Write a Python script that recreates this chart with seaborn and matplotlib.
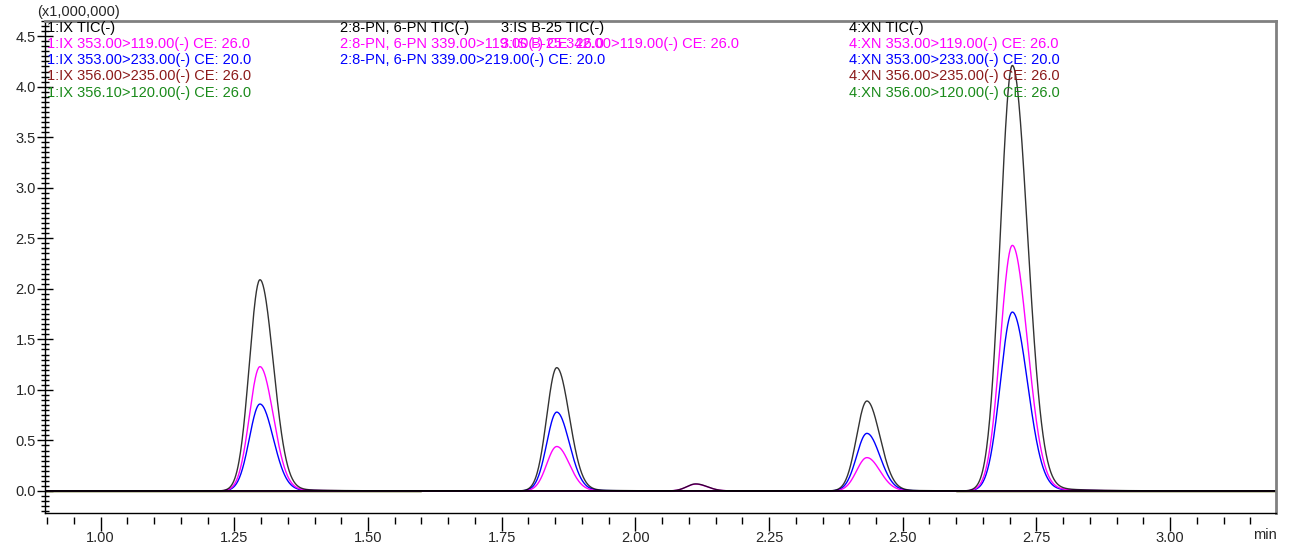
import numpy as np
import pandas as pd
import matplotlib
matplotlib.use("Agg")
import matplotlib.pyplot as plt
from matplotlib.ticker import MultipleLocator
import seaborn as sns

# Peak table per MRM trace: retention time (min), height (x1,000,000), left sigma (min)
ix_rt, ix_sigma = [1.298], [0.0198]
ix_tic = [2.09]
ix_353_119 = [1.23]
ix_353_233 = [0.86]

pn_rt, pn_sigma = [1.853, 2.433], [0.0187, 0.0193]
pn_tic = [1.22, 0.89]
pn_339_119 = [0.44, 0.33]
pn_339_219 = [0.78, 0.57]

is_rt, is_sigma = [2.113], [0.017]
is_tic = [0.07]
is_342_119 = [0.068]

xn_rt, xn_sigma = [2.705], [0.0225]
xn_tic = [4.21]
xn_353_119 = [2.43]
xn_353_233 = [1.77]

# Acquisition windows (min) of the segments that carry the 356 transitions
ix_window = [0.896, 1.60]
xn_window = [2.60, 3.198]

# Legend text of each acquisition segment
seg1_labels = ["1:IX TIC(-)", "1:IX 353.00>119.00(-) CE: 26.0", "1:IX 353.00>233.00(-) CE: 20.0",
               "1:IX 356.00>235.00(-) CE: 26.0", "1:IX 356.10>120.00(-) CE: 26.0"]
seg2_labels = ["2:8-PN, 6-PN TIC(-)", "2:8-PN, 6-PN 339.00>119.00(-) CE: 26.0",
               "2:8-PN, 6-PN 339.00>219.00(-) CE: 20.0"]
seg3_labels = ["3:IS B-25 TIC(-)", "3:IS B-25 342.00>119.00(-) CE: 26.0"]
seg4_labels = ["4:XN TIC(-)", "4:XN 353.00>119.00(-) CE: 26.0", "4:XN 353.00>233.00(-) CE: 20.0",
               "4:XN 356.00>235.00(-) CE: 26.0", "4:XN 356.00>120.00(-) CE: 26.0"]
label_colors = ["black", "#ff00ff", "#0000ff", "#8b1a1a", "#1a8a1a"]

x_ticks = [1.00, 1.25, 1.50, 1.75, 2.00, 2.25, 2.50, 2.75, 3.00]
y_ticks = [0.0, 0.5, 1.0, 1.5, 2.0, 2.5, 3.0, 3.5, 4.0, 4.5]

t = np.linspace(0.896, 3.198, 2400)


def peak_shape(rts, heights, sigmas):
    """Tailing chromatographic peaks: skewed Gaussian core plus a small exponential tail."""
    y = np.zeros_like(t)
    for rt, h, s in zip(rts, heights, sigmas):
        d = t - rt
        sr = 1.25 * s
        core = np.where(d < 0, np.exp(-0.5 * (d / s) ** 2), np.exp(-0.5 * (d / sr) ** 2))
        tail = np.where(d > 0, 0.018 * np.exp(-d / 0.07) * (1 - np.exp(-(d / (2 * s)) ** 2)), 0.0)
        y += h * (core + tail)
    return y


def frame(name, values, time=t):
    return pd.DataFrame({"time": time, "intensity": values, "trace": name})


# flat 356 transitions, only within their own segment windows
t_ix = t[(t >= ix_window[0]) & (t <= ix_window[1])]
t_xn = t[(t >= xn_window[0]) & (t <= xn_window[1])]
flat_df = pd.concat([
    frame("1:IX 356>120", np.zeros_like(t_ix), t_ix),
    frame("1:IX 356>235", np.zeros_like(t_ix) - 0.001, t_ix),
    frame("4:XN 356>120", np.zeros_like(t_xn), t_xn),
    frame("4:XN 356>235", np.zeros_like(t_xn) - 0.001, t_xn),
], ignore_index=True)

mrm = {
    "1:IX 353>233": peak_shape(ix_rt, ix_353_233, ix_sigma),
    "2:PN 339>219": peak_shape(pn_rt, pn_339_219, pn_sigma),
    "4:XN 353>233": peak_shape(xn_rt, xn_353_233, xn_sigma),
    "1:IX 353>119": peak_shape(ix_rt, ix_353_119, ix_sigma),
    "2:PN 339>119": peak_shape(pn_rt, pn_339_119, pn_sigma),
    "3:IS 342>119": peak_shape(is_rt, is_342_119, is_sigma),
    "4:XN 353>119": peak_shape(xn_rt, xn_353_119, xn_sigma),
}
tic = {
    "1:IX TIC": peak_shape(ix_rt, ix_tic, ix_sigma),
    "2:PN TIC": peak_shape(pn_rt, pn_tic, pn_sigma),
    "3:IS TIC": peak_shape(is_rt, is_tic, is_sigma),
    "4:XN TIC": peak_shape(xn_rt, xn_tic, xn_sigma),
}
mrm_df = pd.concat([frame(k, v) for k, v in mrm.items()], ignore_index=True)
tic_df = pd.concat([frame(k, v) for k, v in tic.items()], ignore_index=True)

palette = {
    "1:IX 356>120": "#1a8a1a", "4:XN 356>120": "#1a8a1a",
    "1:IX 356>235": "#8b4513", "4:XN 356>235": "#8b4513",
    "1:IX 353>233": "#0000ff", "2:PN 339>219": "#0000ff", "4:XN 353>233": "#0000ff",
    "1:IX 353>119": "#ff00ff", "2:PN 339>119": "#ff00ff", "3:IS 342>119": "#ff00ff",
    "4:XN 353>119": "#ff00ff",
    "1:IX TIC": "black", "2:PN TIC": "black", "3:IS TIC": "black", "4:XN TIC": "black",
}

sns.set_theme(style="white")
plt.rcParams["font.family"] = ["Liberation Sans", "DejaVu Sans"]

fig = plt.figure(figsize=(12.89, 5.46), dpi=100)
ax = fig.add_axes([45 / 1289, 1 - 513 / 546, 1231 / 1289, 492 / 546])

sns.lineplot(data=flat_df, x="time", y="intensity", hue="trace", palette=palette,
             linewidth=1.0, legend=False, ax=ax, sort=False)
sns.lineplot(data=mrm_df, x="time", y="intensity", hue="trace", palette=palette,
             hue_order=list(mrm.keys()), linewidth=1.0, legend=False, ax=ax, sort=False)
sns.lineplot(data=tic_df, x="time", y="intensity", hue="trace", palette=palette,
             hue_order=list(tic.keys()), linewidth=1.0, alpha=0.8, legend=False, ax=ax,
             sort=False)

ax.set_xlim(0.896, 3.198)
ax.set_ylim(-0.218, 4.65)
ax.set_xlabel("")
ax.set_ylabel("")

# frame: black left/bottom, grey top/right
for side in ("left", "bottom"):
    ax.spines[side].set_color("black")
    ax.spines[side].set_linewidth(1.0)
for side in ("top", "right"):
    ax.spines[side].set_color("#808080")
    ax.spines[side].set_linewidth(2.0)

ax.set_yticks(y_ticks)
ax.set_yticklabels([f"{v:.1f}" for v in y_ticks])
ax.yaxis.set_minor_locator(MultipleLocator(0.05))
ax.tick_params(axis="y", which="major", direction="inout", length=11, width=1, color="black",
               labelsize=10.5, pad=1, left=True)
ax.tick_params(axis="y", which="minor", direction="inout", length=6, width=1, color="black", left=True)

# x ticks hang just below the frame
ax.tick_params(axis="x", which="both", bottom=False, labelbottom=False)
sec = ax.secondary_xaxis(-0.008)
sec.spines["bottom"].set_visible(False)
sec.set_xticks(x_ticks)
sec.set_xticklabels([f"{v:.2f}" for v in x_ticks])
sec.xaxis.set_minor_locator(MultipleLocator(0.05))
sec.tick_params(axis="x", which="major", direction="out", length=10, width=1, color="black",
                labelsize=10.5, pad=0)
sec.tick_params(axis="x", which="minor", direction="out", length=5, width=1, color="black")

fig.text(1265 / 1289, 1 - 535 / 546, "min", ha="center", va="center", fontsize=10.5)
fig.text(37 / 1289, 1 - 12 / 546, "(x1,000,000)", ha="left", va="center", fontsize=10.5)

# segment legends inside the plot area
line_y = [28, 44, 60, 76, 93]


def put_block(x_px, labels, colors, rows):
    for lab, col, r in zip(labels, colors, rows):
        fig.text(x_px / 1289, 1 - line_y[r] / 546, lab, color=col, ha="left", va="center",
                 fontsize=10.5)


put_block(47, seg1_labels, label_colors, range(5))
put_block(340, seg2_labels, label_colors[:3], range(3))
put_block(501, seg3_labels, ["black", "#ff00ff"], range(2))
put_block(849, seg4_labels, label_colors, range(5))

fig.savefig("out.png", dpi=100)
